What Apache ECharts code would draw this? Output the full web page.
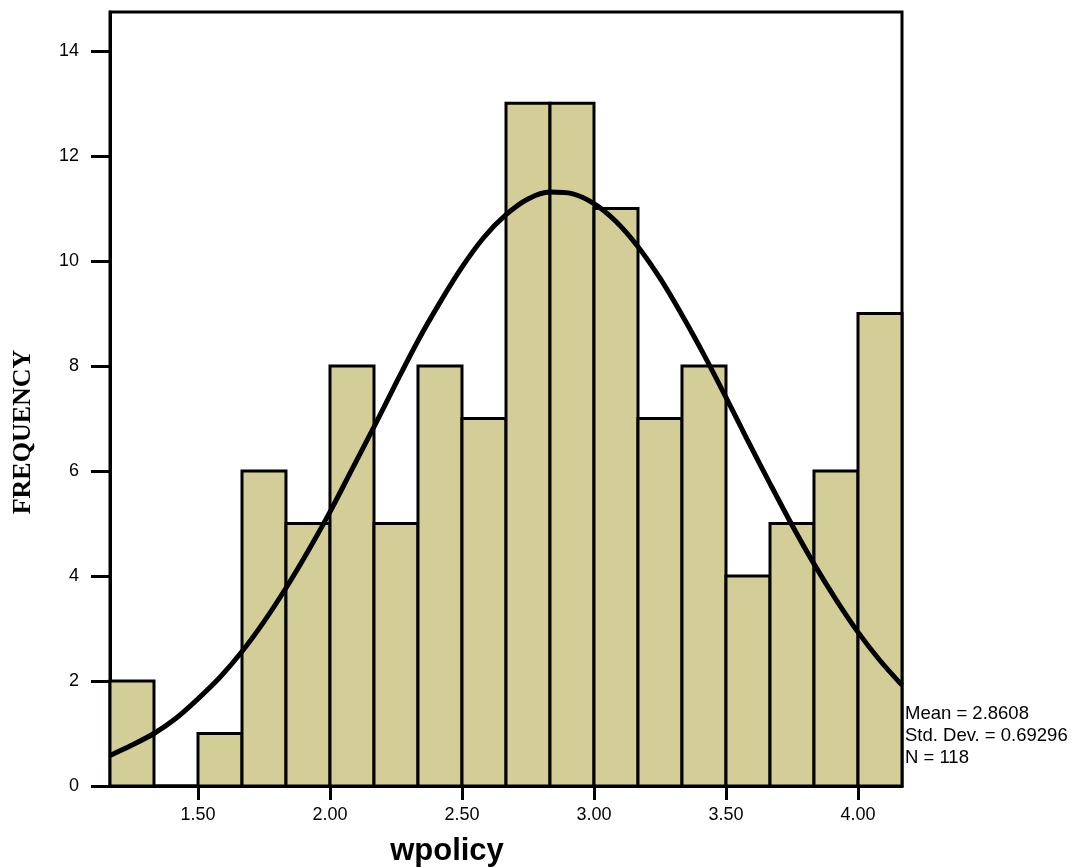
<!DOCTYPE html>
<html>
<head>
<meta charset="utf-8">
<script src="https://cdn.jsdelivr.net/npm/echarts@6/dist/echarts.min.js"></script>
<style>
  html, body { margin: 0; padding: 0; background: #fff; }
  #chart { width: 1073px; height: 867px; }
</style>
</head>
<body>
<div id="chart"></div>
<script>
// histogram bins (width 1/6) and their counts
const binEdges = [1.1667, 1.3333, 1.5, 1.6667, 1.8333, 2.0, 2.1667, 2.3333, 2.5, 2.6667,
  2.8333, 3.0, 3.1667, 3.3333, 3.5, 3.6667, 3.8333, 4.0, 4.1667];
const counts = [2, 0, 1, 6, 5, 8, 5, 8, 7, 13, 13, 11, 7, 8, 4, 5, 6, 9];

// normal curve, every half bin
const curveX = [1.1667, 1.25, 1.3333, 1.4167, 1.5, 1.5833, 1.6667, 1.75, 1.8333, 1.9167,
  2.0, 2.0833, 2.1667, 2.25, 2.3333, 2.4167, 2.5, 2.5833, 2.6667, 2.75,
  2.8333, 2.9167, 3.0, 3.0833, 3.1667, 3.25, 3.3333, 3.4167, 3.5, 3.5833,
  3.6667, 3.75, 3.8333, 3.9167, 4.0, 4.0833, 4.1667];
const curveY = [0.58, 0.78, 1.0, 1.29, 1.66, 2.07, 2.56, 3.13, 3.77, 4.47,
  5.22, 6.03, 6.84, 7.67, 8.48, 9.21, 9.88, 10.45, 10.88, 11.18,
  11.31, 11.28, 11.09, 10.75, 10.27, 9.67, 8.97, 8.21, 7.40, 6.57,
  5.76, 4.97, 4.23, 3.55, 2.93, 2.39, 1.92];

const xTicks = [1.5, 2.0, 2.5, 3.0, 3.5, 4.0];
const yTicks = [0, 2, 4, 6, 8, 10, 12, 14];

const statsLines = ['Mean = 2.8608', 'Std. Dev. = 0.69296', 'N = 118'];

const chart = echarts.init(document.getElementById('chart'), null, { renderer: 'canvas' });

const barData = counts.map((c, i) => [binEdges[i], binEdges[i + 1], c]);
const curveData = curveX.map((x, i) => [x, curveY[i]]);

const labelFont = { color: '#000', fontFamily: 'Liberation Sans, Arial, sans-serif', fontSize: 18 };

chart.setOption({
  animation: false,
  backgroundColor: '#fff',
  grid: {
    left: 110, right: 171, top: 12, bottom: 81,
    show: true, borderColor: '#000', borderWidth: 3, backgroundColor: 'transparent'
  },
  xAxis: {
    type: 'value',
    min: 1.1667,
    max: 4.1667,
    splitLine: { show: false },
    axisLine: { lineStyle: { color: '#000', width: 3 } },
    axisTick: { customValues: xTicks, length: 14, lineStyle: { color: '#000', width: 3 } },
    axisLabel: Object.assign({
      customValues: xTicks, margin: 20,
      formatter: v => v.toFixed(2)
    }, labelFont)
  },
  yAxis: {
    type: 'value',
    min: 0,
    max: 14.74,
    splitLine: { show: false },
    axisLine: { show: true, lineStyle: { color: '#000', width: 3 } },
    axisTick: { show: true, customValues: yTicks, length: 19, lineStyle: { color: '#000', width: 3 } },
    axisLabel: Object.assign({ customValues: yTicks, margin: 31 }, labelFont)
  },
  series: [
    {
      type: 'custom',
      data: barData,
      encode: { x: [0, 1], y: 2 },
      renderItem: function (params, api) {
        const top = api.coord([api.value(0), api.value(2)]);
        const bot = api.coord([api.value(1), 0]);
        return {
          type: 'rect',
          shape: { x: top[0], y: top[1], width: bot[0] - top[0], height: bot[1] - top[1] },
          style: { fill: '#d3ce98', stroke: '#000', lineWidth: 3 }
        };
      },
      z: 2
    },
    {
      type: 'line',
      data: curveData,
      smooth: 0.3,
      symbol: 'none',
      clip: true,
      lineStyle: { color: '#000', width: 5 },
      z: 3
    }
  ],
  graphic: [
    {
      type: 'text',
      x: 23, y: 432,
      rotation: Math.PI / 2,
      style: {
        text: 'FREQUENCY',
        font: 'bold 26px "Liberation Serif", "Times New Roman", serif',
        fill: '#000', align: 'center', verticalAlign: 'middle'
      }
    },
    {
      type: 'text',
      x: 447, y: 851,
      style: {
        text: 'wpolicy',
        font: 'bold 31px "Liberation Sans", Arial, sans-serif',
        fill: '#000', align: 'center', verticalAlign: 'middle'
      }
    },
    {
      type: 'text',
      x: 905, y: 703,
      style: {
        text: statsLines.join('\n'),
        font: '18.5px "Liberation Sans", Arial, sans-serif',
        lineHeight: 22,
        fill: '#000', align: 'left', verticalAlign: 'top'
      }
    }
  ]
});
</script>
</body>
</html>
